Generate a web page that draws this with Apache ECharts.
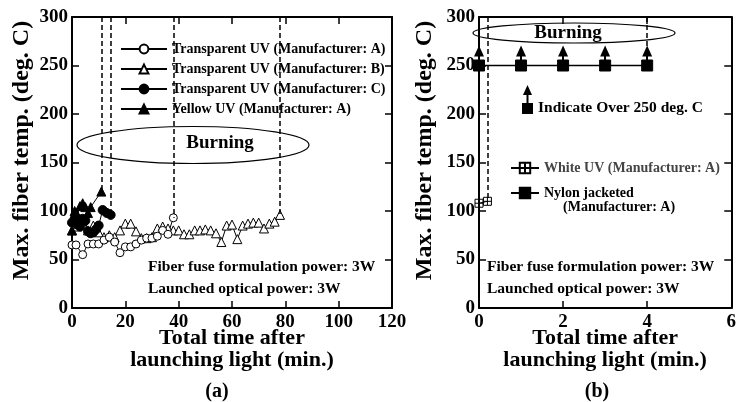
<!DOCTYPE html>
<html><head><meta charset="utf-8">
<script src="https://cdn.jsdelivr.net/npm/echarts@6/dist/echarts.min.js"></script>
<style>html,body{margin:0;padding:0;background:#fff}#c{width:739px;height:402px}</style>
</head><body><div id="c"></div>
<script>
// ---------- data (a) ----------
const timeA = [0, 1.5, 4, 6, 8, 10, 12, 14, 16, 18, 20, 22, 24, 26, 28, 30, 32, 34, 36, 38];
const tempA = [65, 65, 55, 66, 66, 66, 70, 73, 68, 57, 63, 63, 66, 70, 72, 72, 74, 80, 76, 93];
const timeB = [0,2,4,6,8,10,12,14,16,18,20,22,24,26,28,30,32,34,36,38,40,42,44,46,48,50,52,54,56,58,60,62,64,66,68,70,72,74,76,78];
const tempB = [80,84,86,80,85,78,73,75,73,80,87,87,79,72,72,73,82,84,82,80,80,76,76,80,80,81,80,77,68,85,86,71,85,87,88,88,82,87,89,96];
const timeC = [0, 1, 2, 3, 4, 5, 6, 7, 8, 9, 10, 11.5, 13, 14.5];
const tempC = [88, 92, 86, 84, 92, 90, 79, 77, 78, 81, 85, 101, 98, 96];
const timeY = [0, 0.5, 1, 2, 3, 4, 5, 6, 7, 11];
const tempY = [80, 92, 100, 96, 105, 108, 104, 98, 104, 120];
// ---------- data (b) ----------
const timeW = [0, 0.2];
const tempW = [108, 110];
const timeN = [0, 1, 2, 3, 4];
const tempN = [250, 250, 250, 250, 250];
// ---------- axes ----------
const xTicksA = {min: 0, max: 120, interval: 20};
const xTicksB = {min: 0, max: 6, interval: 2};
const yTicks = {min: 0, max: 300, interval: 50};
const nameA = 'Transparent UV (Manufacturer: A)';
const nameB = 'Transparent UV (Manufacturer: B)';
const nameC = 'Transparent UV (Manufacturer: C)';
const nameY = 'Yellow UV (Manufacturer: A)';
const nameW = 'White UV (Manufacturer: A)';
const nameN = 'Nylon jacketed';

const FONT = '"Liberation Serif","Times New Roman",serif';
const ARROW = 15;
const chart = echarts.init(document.getElementById('c'));
const pairs = (xs, ys) => xs.map((x, i) => [x, ys[i]]);
const last = (a) => a[a.length - 1];
const dashTo = (x, y) => [{coord: [x, yTicks.max]}, {coord: [x, y]}];
const dashML = (data) => ({silent: true, symbol: 'none', label: {show: false},
  lineStyle: {type: [5, 3], color: '#000', width: 1.5}, emphasis: {disabled: true}, animation: false, data});

function xAx(grid, ticks, top, name) {
  return Object.assign({type: 'value', gridIndex: grid, position: top ? 'top' : 'bottom',
    axisLine: {show: true, onZero: false, lineStyle: {color: '#000', width: 2}},
    axisTick: {show: true, inside: true, length: 7, lineStyle: {color: '#000', width: 1.5}},
    axisLabel: {show: !top, margin: 5, color: '#000', fontFamily: FONT, fontWeight: 'bold', fontSize: 19},
    splitLine: {show: false},
    name: top ? '' : name, nameLocation: 'middle', nameGap: 19, nameMoveOverlap: false,
    nameTextStyle: {color: '#000', fontFamily: FONT, fontWeight: 'bold', fontSize: 22, lineHeight: 22, verticalAlign: 'top'}
  }, ticks);
}
function yAx(grid, right, name, gap) {
  return Object.assign({type: 'value', gridIndex: grid, position: right ? 'right' : 'left',
    axisLine: {show: true, onZero: false, lineStyle: {color: '#000', width: 2}},
    axisTick: {show: true, inside: true, length: 7, lineStyle: {color: '#000', width: 1.5}},
    axisLabel: {show: !right, margin: 4, color: '#000', fontFamily: FONT, fontWeight: 'bold', fontSize: 19},
    splitLine: {show: false},
    name: right ? '' : name, nameLocation: 'middle', nameGap: gap, nameRotate: 90,
    nameTextStyle: {color: '#000', fontFamily: FONT, fontWeight: 'bold', fontSize: 24, padding: [0, 0, 0, 24]}
  }, yTicks);
}
const xName = 'Total time after\nlaunching light (min.)';
const yName = 'Max. fiber temp. (deg. C)';
const openStyle = {color: '#fff', borderColor: '#000', borderWidth: 1};
const fillStyle = {color: '#000', borderColor: '#000', borderWidth: 1};
const lineSt = {color: '#000', width: 1};
const txt = (x, y, text, size, extra) => Object.assign({type: 'text', x, y,
  style: Object.assign({text, fill: '#000', font: 'bold ' + size + 'px ' + FONT, align: 'left', verticalAlign: 'middle'}, extra || {})});

chart.setOption({
  animation: false,
  backgroundColor: '#fff',
  grid: [
    {left: 72, top: 17, width: 320, height: 291},
    {left: 479, top: 17, width: 254, height: 291}
  ],
  xAxis: [xAx(0, xTicksA, false, xName), xAx(0, xTicksA, true), xAx(1, xTicksB, false, xName), xAx(1, xTicksB, true)],
  yAxis: [yAx(0, false, yName, 38), yAx(0, true), yAx(1, false, yName, 42), yAx(1, true)],
  legend: [
    {left: 115, top: 37, orient: 'vertical', itemWidth: 46, itemHeight: 11, itemGap: 6, selectedMode: false,
     textStyle: {fontFamily: FONT, fontWeight: 'bold', fontSize: 14, color: '#000'},
     data: [nameA, nameB, nameC, nameY]},
    {left: 505, top: 156, orient: 'vertical', itemWidth: 28, itemHeight: 13, itemGap: 11, selectedMode: false,
     textStyle: {fontFamily: FONT, fontWeight: 'bold', fontSize: 14, color: '#000'},
     data: [{name: nameW, textStyle: {color: '#444'}}, nameN]}
  ],
  series: [
    {name: nameB, type: 'line', xAxisIndex: 0, yAxisIndex: 0, data: pairs(timeB, tempB),
     symbol: 'triangle', symbolSize: 9, itemStyle: openStyle, lineStyle: lineSt,
     markLine: dashML([dashTo(last(timeB), last(tempB))])},
    {name: nameA, type: 'line', xAxisIndex: 0, yAxisIndex: 0, data: pairs(timeA, tempA),
     symbol: 'circle', symbolSize: 8, itemStyle: openStyle, lineStyle: lineSt,
     markLine: dashML([dashTo(last(timeA), last(tempA))])},
    {name: nameC, type: 'line', xAxisIndex: 0, yAxisIndex: 0, data: pairs(timeC, tempC),
     symbol: 'circle', symbolSize: 9, itemStyle: fillStyle, lineStyle: lineSt,
     markLine: dashML([dashTo(last(timeC), last(tempC))])},
    {name: nameY, type: 'line', xAxisIndex: 0, yAxisIndex: 0, data: pairs(timeY, tempY),
     symbol: 'triangle', symbolSize: 9, itemStyle: fillStyle, lineStyle: lineSt,
     markLine: dashML([dashTo(last(timeY), last(tempY))])},
    {name: nameW, type: 'line', xAxisIndex: 2, yAxisIndex: 2, data: pairs(timeW, tempW),
     symbol: 'path://M0,0H10V10H0Z M5,0V10 M0,5H10', symbolSize: 8,
     itemStyle: {color: 'rgba(0,0,0,0)', borderColor: '#000', borderWidth: 1}, lineStyle: lineSt,
     markLine: dashML([dashTo(last(timeW), last(tempW)), dashTo(last(timeN), last(tempN))])},
    {name: nameN, type: 'line', xAxisIndex: 2, yAxisIndex: 2, data: pairs(timeN, tempN),
     symbol: 'rect', symbolSize: 11, itemStyle: fillStyle, lineStyle: {color: '#000', width: 1.5},
     markLine: {silent: true, symbol: ['none', 'triangle'], symbolSize: [10, 11], label: {show: false},
       lineStyle: {type: 'solid', color: '#000', width: 2}, emphasis: {disabled: true}, animation: false,
       data: timeN.map((x, i) => [{coord: [x, tempN[i]]}, {coord: [x, tempN[i] + ARROW]}])}}
  ],
  graphic: [
    {type: 'ellipse', shape: {cx: 193, cy: 145, rx: 116, ry: 18.5}, style: {fill: 'none', stroke: '#000', lineWidth: 1.2}},
    txt(220, 143, 'Burning', 19, {align: 'center'}),
    {type: 'ellipse', shape: {cx: 574, cy: 33, rx: 101, ry: 10}, style: {fill: 'none', stroke: '#000', lineWidth: 1.2}},
    txt(568, 33, 'Burning', 19, {align: 'center'}),
    txt(148, 267, 'Fiber fuse formulation power: 3W', 15.5),
    txt(148, 289, 'Launched optical power: 3W', 15.5),
    txt(487, 267, 'Fiber fuse formulation power: 3W', 15.5),
    txt(487, 289, 'Launched optical power: 3W', 15.5),
    txt(217, 392, '(a)', 20, {align: 'center'}),
    txt(597, 392, '(b)', 20, {align: 'center'}),
    {type: 'rect', shape: {x: 522, y: 103, width: 11, height: 11}, style: {fill: '#000'}},
    {type: 'line', shape: {x1: 527.5, y1: 103, x2: 527.5, y2: 93}, style: {stroke: '#000', lineWidth: 2}},
    {type: 'polygon', shape: {points: [[527.5, 85], [523, 95], [532, 95]]}, style: {fill: '#000'}},
    txt(538, 108, 'Indicate Over 250 deg. C', 15.5),
    txt(563, 207, '(Manufacturer: A)', 14)
  ]
});
</script>
</body></html>
